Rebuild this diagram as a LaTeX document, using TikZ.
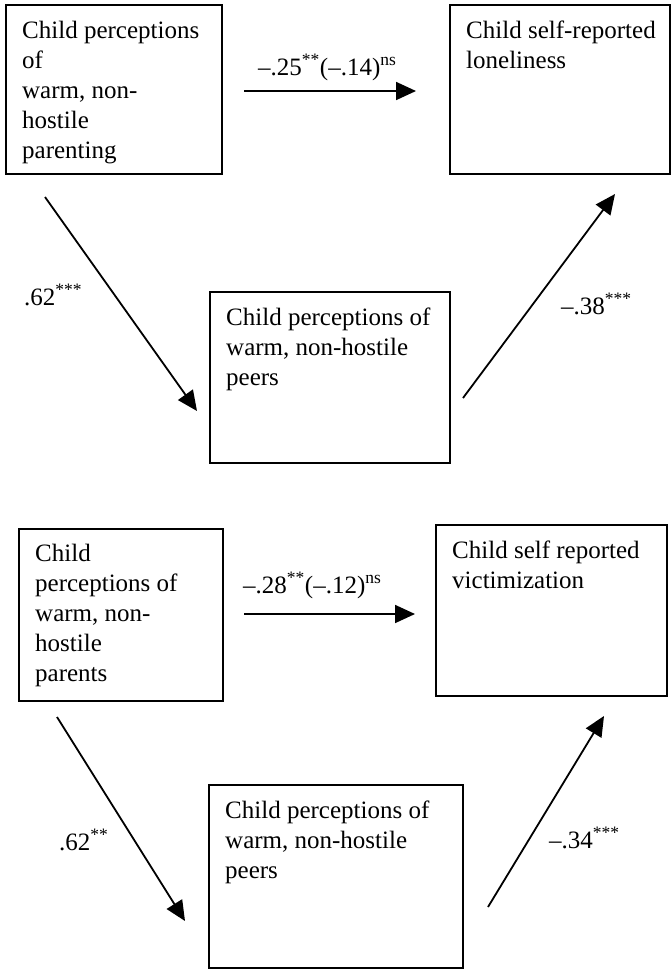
\documentclass[tikz,border=0pt]{standalone}
\usepackage{fontspec}
\setmainfont{Liberation Serif}
\usetikzlibrary{arrows.meta}
\begin{document}
\begin{tikzpicture}[x=1pt,y=-1pt,
  box/.style={draw, line width=1.6pt, rectangle, anchor=north west, inner sep=0pt, outer sep=0pt},
  boxtext/.style={anchor=north west, inner sep=0pt, align=left, font=\fontsize{25}{30}\selectfont},
  lab/.style={anchor=base west, inner sep=0pt, font=\fontsize{25}{30}\selectfont},
  arr/.style={line width=1.8pt, -{Triangle[length=20pt,width=18pt]}}]
\useasboundingbox (0,0) rectangle (671,970);
% top diagram
\node[box, minimum width=216pt, minimum height=169pt] (b1) at (6,5) {};
\node[box, minimum width=220pt, minimum height=169pt] (b2) at (450,5) {};
\node[box, minimum width=240pt, minimum height=171pt] (b3) at (210,292) {};
\node[boxtext] (t1) at (22,21) {Child perceptions\\of\\warm, non-\\hostile\\parenting};
\node[boxtext] (t2) at (466,21) {Child self-reported\\loneliness};
\node[boxtext] (t3) at (226,308) {Child perceptions of\\warm, non-hostile\\peers};
\coordinate (a1s) at (244,91); \coordinate (a1e) at (416,91);
\coordinate (a2s) at (45,197); \coordinate (a2e) at (197,411);
\coordinate (a3s) at (463,398); \coordinate (a3e) at (615,194);
\draw[arr] (a1s) -- (a1e);
\draw[arr] (a2s) -- (a2e);
\draw[arr] (a3s) -- (a3e);
\node[lab] (l1) at (258,75) {–.25\textsuperscript{**}(–.14)\textsuperscript{ns}};
\node[lab] (l2) at (24,305) {.62\textsuperscript{***}};
\node[lab] (l3) at (561,314) {–.38\textsuperscript{***}};
% bottom diagram
\node[box, minimum width=204pt, minimum height=172pt] (b4) at (19,529) {};
\node[box, minimum width=231pt, minimum height=171pt] (b5) at (436,525) {};
\node[box, minimum width=254pt, minimum height=183pt] (b6) at (209,785) {};
\node[boxtext] (t4) at (35,544) {Child\\perceptions of\\warm, non-\\hostile\\parents};
\node[boxtext] (t5) at (452,541) {Child self reported\\victimization};
\node[boxtext] (t6) at (225,801) {Child perceptions of\\warm, non-hostile\\peers};
\coordinate (a4s) at (244,614); \coordinate (a4e) at (415,614);
\coordinate (a5s) at (57,717); \coordinate (a5e) at (185,921);
\coordinate (a6s) at (488,907); \coordinate (a6e) at (604,716);
\draw[arr] (a4s) -- (a4e);
\draw[arr] (a5s) -- (a5e);
\draw[arr] (a6s) -- (a6e);
\node[lab] (l4) at (243,593) {–.28\textsuperscript{**}(–.12)\textsuperscript{ns}};
\node[lab] (l5) at (59,850) {.62\textsuperscript{**}};
\node[lab] (l6) at (549,848) {–.34\textsuperscript{***}};
\end{tikzpicture}
\end{document}
